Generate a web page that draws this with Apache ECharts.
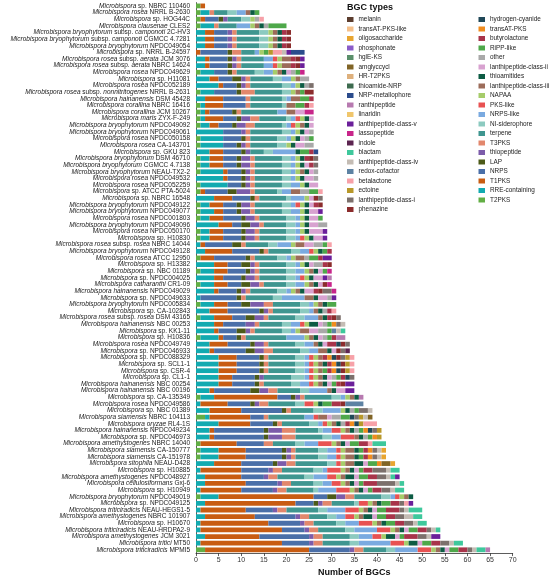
<!DOCTYPE html>
<html>
<head>
<meta charset="utf-8">
<script src="https://cdn.jsdelivr.net/npm/echarts@6/dist/echarts.min.js"></script>
<style>
  html, body { margin: 0; padding: 0; background: #fff; }
  #chart_1 { width: 550px; height: 582px; }
</style>
</head>
<body>
<div id="chart_1"></div>
<script>
// strain labels, top to bottom; _..._ marks the italic part
var strains = [
  '_Microbispora_ sp. NBRC 110460', '_Microbispora rosea_ NRRL B-2630', '_Microbispora_ sp. HOG44C',
  '_Microbispora clausenae_ CLES2', '_Microbispora bryophytorum_ subsp. _camponoti_ 2C-HV3',
  '_Microbispora bryophytorum_ subsp. _camponoti_ CGMCC 4.7281', '_Microbispora bryophytorum_ NPDC049054',
  '_Microbispora_ sp. NRRL B-24597', '_Microbispora rosea_ subsp. _aerata_ JCM 3076',
  '_Microbispora rosea_ subsp. _aerata_ NBRC 14624', '_Microbispora rosea_ NPDC049629', '_Microbispora_ sp. H11081',
  '_Microbispora rosea_ NPDC052189', '_Microbispora rosea_ subsp. _nonnitritogenes_ NRRL B-2631',
  '_Microbispora hainanensis_ DSM 45428', '_Microbispora corallina_ NBRC 16416', '_Microbispora corallina_ JCM 10267',
  '_Microbispora maris_ ZYX-F-249', '_Microbispora bryophytorum_ NPDC049092', '_Microbispora bryophytorum_ NPDC049061',
  '_Microbispora rosea_ NPDC050158', '_Microbispora rosea_ CA-143701', '_Microbispora_ sp. GKU 823',
  '_Microbispora bryophytorum_ DSM 46710', '_Microbispora bryophytorum_ CGMCC 4.7138',
  '_Microbispora bryophytorum_ NEAU-TX2-2', '_Microbispora rosea_ NPDC049532', '_Microbispora rosea_ NPDC052259',
  '_Microbispora_ sp. ATCC PTA-5024', '_Microbispora_ sp. NBRC 16548', '_Microbispora bryophytorum_ NPDC049122',
  '_Microbispora bryophytorum_ NPDC049077', '_Microbispora rosea_ NPDC001803', '_Microbispora bryophytorum_ NPDC049096',
  '_Microbispora rosea_ NPDC050170', '_Microbispora_ sp. H10830', '_Microbispora rosea_ subsp. _rosea_ NBRC 14044',
  '_Microbispora bryophytorum_ NPDC049128', '_Microbispora rosea_ ATCC 12950', '_Microbispora_ sp. H13382',
  '_Microbispora_ sp. NBC 01189', '_Microbispora_ sp. NPDC004025', '_Microbispora catharanthi_ CR1-09',
  '_Microbispora hainanensis_ NPDC049029', '_Microbispora_ sp. NPDC049633', '_Microbispora bryophytorum_ NPDC005834',
  '_Microbispora_ sp. CA-102843', '_Microbispora rosea_ subsp. _rosea_ DSM 43165', '_Microbispora hainanensis_ NBC 00253',
  '_Microbispora_ sp. KK1-11', '_Microbispora_ sp. H10836', '_Microbispora rosea_ NPDC049749',
  '_Microbispora_ sp. NPDC046933', '_Microbispora_ sp. NPDC088329', '_Microbispora_ sp. SCL1-1',
  '_Microbispora_ sp. CSR-4', '_Microbispora_ sp. CL1-1', '_Microbispora hainanensis_ NBC 00254',
  '_Microbispora hainanensis_ NBC 00196', '_Microbispora_ sp. CA-135349', '_Microbispora rosea_ NPDC049586',
  '_Microbispora_ sp. NBC 01389', '_Microbispora siamensis_ NBRC 104113', '_Microbispora oryzae_ RL4-1S',
  '_Microbispora hainanensis_ NPDC049234', '_Microbispora_ sp. NPDC046973', '_Microbispora amethystogenes_ NBRC 14040',
  '_Microbispora siamensis_ CA-150777', '_Microbispora siamensis_ CA-151978', '_Microbispora sitophila_ NEAU-D428',
  '_Microbispora_ sp. H10885', '_Microbispora amethystogenes_ NPDC048927', '_Microbispora cellulosiformans_ Gxj-6',
  '_Microbispora_ sp. H10949', '_Microbispora bryophytorum_ NPDC049019', '_Microbispora_ sp. NPDC049125',
  '_Microbispora triticiradicis_ NEAU-HEGS1-5', '_Microbispora amethystogenes_ NBRC 101907', '_Microbispora_ sp. H10670',
  '_Microbispora triticiradicis_ NEAU-HRDPA2-9', '_Microbispora amethystogenes_ JCM 3021', '_Microbispora tritici_ MT50',
  '_Microbispora triticiradicis_ MPMI5'
];

// BGC types in stacking order (left to right)
var typeCodes = ['T2', 'RRE', 'T1', 'NRPS', 'LAP', 'TP', 'T3', 'TER', 'NIS', 'NRL', 'PKL', 'NAP', 'L3', 'THA', 'L2',
  'OTH', 'RIPP', 'BUT', 'TAT', 'HCN', 'PHZ', 'L1', 'ECT', 'BL', 'RED', 'L4', 'BLA', 'IND', 'LAS', 'L5', 'LIN', 'RAN',
  'NRPM', 'TNRP', 'HRT2', 'AMG', 'HGL', 'PHO', 'OLI', 'TATL', 'MEL'];
var typeNames = ['T2PKS', 'RRE-containing', 'T1PKS', 'NRPS', 'LAP', 'thiopeptide', 'T3PKS', 'terpene', 'NI-siderophore',
  'NRPS-like', 'PKS-like', 'NAPAA', 'lanthipeptide-class-iii', 'thioamitides', 'lanthipeptide-class-ii', 'other',
  'RiPP-like', 'butyrolactone', 'transAT-PKS', 'hydrogen-cyanide', 'phenazine', 'lanthipeptide-class-i', 'ectoine',
  'betalactone', 'redox-cofactor', 'lanthipeptide-class-iv', 'blactam', 'indole', 'lassopeptide',
  'lanthipeptide-class-v', 'linaridin', 'ranthipeptide', 'NRP-metallophore', 'thioamide-NRP', 'HR-T2PKS',
  'amglyccycl', 'hglE-KS', 'phosphonate', 'oligosaccharide', 'transAT-PKS-like', 'melanin'];
var typeColors = ['#62ae44', '#12aab0', '#c85c12', '#4a6fa8', '#4c5a18', '#7c5caa', '#e2876c', '#3f9690', '#8ccac0',
  '#7aaae0', '#e85252', '#a6cc6a', '#9c6c5a', '#0d5c44', '#d8a2d0', '#a9a9a9', '#4ea84a', '#a8344a', '#f08c1e',
  '#204858', '#8b2c2c', '#7c706c', '#b8982a', '#f7a1a8', '#5d82a3', '#c4bcb4', '#3ec89c', '#5c2450', '#c8258a',
  '#6b1f9a', '#f0c66c', '#b77ab0', '#2b4c8c', '#3d6b4f', '#deb07c', '#806426', '#5a8f6a', '#8a5cc8', '#e8a530',
  '#f5c08a', '#5c3d2e'];

// BGC counts per strain (same order as strains)
var counts = [
  {T2:1, T1:1},
  {T2:1, RRE:2, T3:1, TER:3, NIS:2, NRL:2, L3:1, THA:1, RIPP:1},
  {T2:1, T1:1, NRPS:3, LAP:1, TP:1, TER:3, NIS:2, NAP:1, OTH:1, BL:1},
  {T2:1, RRE:3, T3:1, TER:4, NRL:3, NAP:1, L3:1, THA:1, OTH:1, RIPP:4},
  {RRE:2, T1:2, NRPS:3, TP:1, T3:1, TER:5, NIS:2, NAP:1, L3:1, THA:1, BUT:1, PHZ:1},
  {RRE:2, T1:2, NRPS:3, TP:1, T3:1, TER:5, NIS:2, NAP:1, L3:1, THA:1, BUT:1, PHZ:1},
  {RRE:2, T1:2, NRPS:3, TP:1, T3:1, TER:5, NIS:2, NAP:1, L3:1, THA:1, BUT:1, PHZ:1},
  {T1:1, NRPS:6, LAP:1, T3:2, TER:3, NRL:1, NAP:1, RIPP:1, ECT:1, BL:2, L4:1, L5:1, NRPM:3},
  {RRE:2, T1:1, NRPS:4, LAP:1, TP:1, T3:1, TER:5, NRL:2, PKL:1, NAP:1, L3:2, BUT:1, PHZ:1, L5:1},
  {RRE:2, T1:1, NRPS:4, LAP:1, TP:1, T3:1, TER:5, NRL:2, PKL:1, NAP:1, L3:2, BUT:1, PHZ:1, L5:1},
  {T2:1, RRE:3, NRPS:3, LAP:1, T3:1, TER:4, NIS:2, NRL:2, NAP:1, L3:1, THA:1, L2:1, OTH:1, RIPP:1, LAS:1},
  {RRE:3, T1:2, NRPS:3, LAP:2, TP:1, T3:1, TER:5, NIS:2, NRL:2, NAP:1, L3:1, OTH:2},
  {RRE:5, T1:1, NRPS:3, LAP:1, TP:1, T3:1, TER:7, NIS:2, NRL:1, NAP:1, THA:1, OTH:1, L1:1},
  {T2:1, RRE:3, NRPS:5, LAP:1, T3:3, TER:6, NIS:2, NAP:1, L3:1, RIPP:1, PHZ:2},
  {RRE:2, T1:4, NRPS:5, T3:1, TER:7, NIS:1, NRL:1, L3:2, RIPP:2, BUT:1},
  {T2:1, RRE:1, T1:4, NRPS:5, T3:1, TER:7, NIS:1, L3:2, RIPP:2, BUT:1, BL:1},
  {T2:1, RRE:1, T1:1, NRPS:5, LAP:1, T3:1, TER:8, NRL:2, L3:2, L2:2, LAS:2},
  {T2:1, RRE:1, T1:4, NRPS:3, LAP:1, TP:2, T3:2, TER:6, NIS:1, NRL:1, PKL:1, NAP:1, THA:1, L2:1},
  {T2:1, RRE:2, T1:2, NRPS:3, LAP:1, TP:2, T3:2, TER:6, NIS:1, NRL:1, PKL:1, NAP:1, L3:1, THA:1, L2:1},
  {RRE:6, NRPS:4, TP:1, T3:1, TER:7, NIS:2, NRL:1, NAP:1, THA:1, L2:1, OTH:1},
  {T2:1, RRE:5, NRPS:4, LAP:1, T3:1, TER:6, NIS:2, NRL:1, NAP:1, THA:1, L2:1, OTH:1, RIPP:1},
  {T2:1, RRE:5, NRPS:3, LAP:1, TP:1, T3:1, TER:6, NIS:2, NAP:1, THA:1, L2:2, OTH:2},
  {RRE:3, T1:3, NRPS:4, LAP:1, TP:1, TER:3, NIS:2, NRL:5, THA:1, RIPP:2, BUT:1, NRPM:1},
  {T2:1, RRE:2, T1:3, NRPS:3, LAP:1, TP:2, T3:1, TER:6, NIS:2, NRL:1, NAP:1, THA:1, BUT:1, PHZ:1, L1:1},
  {T2:1, RRE:2, T1:3, NRPS:3, LAP:1, TP:2, T3:1, TER:6, NIS:2, NRL:1, NAP:1, THA:1, L2:1, BUT:1, L1:1},
  {T2:1, RRE:5, T1:1, NRPS:3, LAP:1, TP:1, T3:1, TER:6, NIS:2, NRL:1, NAP:1, L3:1, THA:1, L2:1, OTH:1},
  {RRE:6, T1:1, NRPS:3, LAP:1, TP:1, T3:1, TER:6, NIS:2, NRL:1, NAP:1, THA:1, L2:2, OTH:1},
  {T2:1, RRE:6, NRPS:3, LAP:1, TP:1, T3:1, TER:6, NIS:2, NRL:2, NAP:1, THA:1, L2:2},
  {T2:1, T1:1, NRPS:5, LAP:2, TP:3, T3:1, TER:5, NIS:1, NRL:2, L3:2, OTH:2, RIPP:2, BL:1},
  {RRE:4, T1:4, NRPS:4, LAP:1, T3:1, TER:6, NIS:1, NRL:3, NAP:1, L2:1, PHZ:1, L1:1},
  {T2:1, RRE:2, T1:3, NRPS:3, LAP:1, TP:2, T3:1, TER:6, NIS:2, NRL:1, PKL:1, NAP:1, THA:1, L2:1, BUT:1, PHZ:1},
  {T2:1, RRE:3, T1:2, NRPS:3, LAP:1, TP:2, T3:1, TER:6, NIS:2, NRL:2, NAP:1, THA:1, L2:2, L5:1},
  {T2:1, RRE:2, T1:3, NRPS:4, LAP:1, TP:2, T3:1, TER:6, NIS:2, NRL:1, NAP:1, THA:1, L2:2, RIPP:1},
  {RRE:5, T1:3, NRPS:2, LAP:2, TP:2, T3:1, TER:5, NIS:2, NRL:1, NAP:1, THA:1, L2:2, OTH:2},
  {T2:1, RRE:2, T1:3, NRPS:4, LAP:1, TP:2, T3:1, TER:6, NIS:2, NRL:1, NAP:1, THA:1, L2:3, L5:1},
  {T2:1, RRE:2, T1:3, NRPS:4, LAP:1, TP:2, T3:1, TER:6, NIS:2, NRL:1, PKL:1, NAP:1, THA:1, L2:2, L5:1},
  {RRE:1, T1:1, NRPS:6, LAP:2, T3:1, TER:5, NIS:2, NRL:3, NAP:1, L3:2, L2:2, OTH:2, RIPP:1, BL:1},
  {RRE:2, T1:6, NRPS:6, LAP:1, T3:1, TER:5, NIS:2, NRL:2, PKL:1, NAP:1, THA:1, RIPP:1, BUT:1},
  {T2:1, T1:3, NRPS:7, LAP:1, T3:1, TER:5, NIS:2, NRL:1, NAP:1, L3:2, OTH:1, RIPP:2, BUT:1, L5:2},
  {RRE:4, T1:3, NRPS:3, LAP:2, TP:1, T3:1, TER:6, NIS:2, NRL:1, NAP:1, THA:1, L2:1, OTH:2, BUT:1, PHZ:1},
  {T2:1, RRE:3, T1:3, NRPS:4, LAP:1, TP:1, T3:1, TER:6, NIS:2, NRL:2, NAP:1, L3:1, THA:1, L2:1, RIPP:1, LAS:1},
  {RRE:4, T1:2, NRPS:4, LAP:1, TP:2, T3:1, TER:6, NIS:2, NRL:1, PKL:1, NAP:1, THA:1, L2:2, L5:1, RAN:1},
  {T2:1, RRE:3, T1:3, NRPS:3, LAP:2, TP:2, T3:1, TER:5, NIS:2, NRL:2, NAP:1, L3:1, THA:1, L2:1, PHZ:1, LAS:1},
  {RRE:4, T1:1, NRPS:4, LAP:1, TP:1, T3:1, TER:6, NIS:2, NRL:1, NAP:1, L3:1, THA:1, L2:2, BUT:1, PHZ:1, L1:2, LAS:1},
  {RRE:1, NRPS:8, LAP:1, T3:1, TER:6, NIS:2, NRL:5, L3:2, THA:1, L2:2, OTH:1, L5:1},
  {T2:1, RRE:3, T1:3, NRPS:3, LAP:2, TP:3, T3:2, TER:6, NIS:2, NRL:1, NAP:1, L3:1, THA:1, RIPP:2},
  {RRE:3, T1:4, NRPS:7, LAP:1, TP:1, T3:1, TER:6, NIS:2, NRL:1, L3:1, THA:1, OTH:1, BUT:1, BL:1},
  {T2:1, RRE:3, T1:4, NRPS:3, LAP:2, TP:2, T3:1, TER:6, NIS:2, NRL:3, L3:1, THA:1, BUT:1, PHZ:1, L1:1},
  {RRE:4, T1:2, NRPS:5, TP:2, T3:1, TER:5, NIS:2, NRL:2, PKL:1, NAP:1, THA:2, L2:1, OTH:1, RIPP:1, TAT:1, L1:1, L4:1},
  {RRE:4, T1:1, NRPS:4, LAP:2, TP:1, T3:1, TER:6, NIS:2, NRL:1, NAP:1, L3:2, L2:2, OTH:2, RIPP:1, RED:1, L4:1, BLA:1},
  {T2:1, RRE:4, T1:1, NRPS:3, LAP:1, T3:1, TER:9, NRL:4, NAP:1, L3:1, THA:1, L2:1, OTH:1, RIPP:1, BUT:1, RAN:2},
  {RRE:3, T1:4, NRPS:5, LAP:1, TP:2, T3:1, TER:6, NIS:2, NRL:2, L3:1, THA:1, L2:1, BUT:2, HCN:1, PHZ:1, L1:1},
  {RRE:3, T1:1, NRPS:7, LAP:2, TP:2, T3:2, TER:6, NIS:2, NRL:2, L3:2, THA:1, L2:1, PHZ:1, L1:1, IND:1},
  {RRE:5, T1:4, NRPS:5, LAP:1, T3:1, TER:6, NIS:2, NRL:1, PKL:1, NAP:1, L3:1, BUT:1, TAT:1, HCN:1, PHZ:1, L1:1, ECT:1, BL:1},
  {RRE:5, T1:4, NRPS:5, LAP:1, T3:1, TER:6, NIS:2, NRL:1, PKL:1, NAP:1, L3:1, THA:1, BUT:1, TAT:1, HCN:1, PHZ:1, ECT:1, BL:1},
  {RRE:5, T1:4, NRPS:5, LAP:1, T3:1, TER:6, NIS:2, NRL:1, PKL:1, NAP:1, L3:1, RIPP:1, BUT:1, TAT:1, HCN:1, PHZ:1, ECT:1, BL:1},
  {RRE:5, T1:3, NRPS:5, LAP:1, TP:1, TER:6, NIS:3, NRL:1, PKL:1, NAP:1, L3:1, THA:1, L2:1, OTH:1, RIPP:1, BUT:1, HCN:1, L1:1},
  {RRE:5, T1:3, NRPS:5, LAP:1, T3:1, TER:6, NIS:2, NRL:2, PKL:1, NAP:1, L3:1, THA:1, L2:1, RIPP:1, BUT:1, PHZ:1, L5:2},
  {RRE:3, T1:1, NRPS:8, LAP:2, TP:2, T3:2, TER:5, NIS:2, NRL:4, L3:1, THA:1, L2:2, L5:2},
  {T2:1, RRE:3, T1:14, NRPS:3, LAP:1, TP:1, T3:1, TER:6, NIS:2, NRL:1, NAP:1, L3:1, THA:1, RAN:1},
  {RRE:1, T1:6, NRPS:5, LAP:1, TP:1, T3:2, TER:6, NIS:2, PKL:2, NAP:1, THA:1, RIPP:2, BUT:2, PHZ:1, RED:4},
  {RRE:3, T1:7, NRPS:9, LAP:1, T3:1, TER:5, NIS:2, NRL:4, NAP:1, THA:1, OTH:1, RIPP:1, L1:2, L4:1},
  {T2:2, RRE:1, T1:9, NRPS:3, T3:1, TER:8, NRL:2, PKL:1, L3:2, L2:1, OTH:2, RIPP:2, HCN:1, L1:1, ECT:1, L4:1, AMG:1},
  {RRE:5, T1:7, NRPS:5, LAP:1, T3:1, TER:6, NIS:2, NRL:1, PKL:1, NAP:1, L3:1, THA:1, OTH:1, BUT:1, TAT:1, HCN:1, ECT:1, BL:3},
  {RRE:3, T1:1, NRPS:11, LAP:1, TP:3, T3:3, TER:5, NIS:1, NRL:2, PKL:2, NAP:1, L3:1, THA:1, OTH:1, RIPP:1, TAT:1, HCN:1, L1:1, ECT:1},
  {RRE:3, T1:1, NRPS:11, LAP:1, TP:3, T3:3, TER:6, NIS:2, NRL:2, PKL:3, L3:1, THA:1, OTH:1, RIPP:1, TAT:1, ECT:1},
  {T2:1, T1:8, NRPS:6, T3:2, TER:5, NIS:2, NRL:3, PKL:3, NAP:1, L3:1, THA:1, L2:1, RIPP:2, BUT:2, BL:1, BLA:3},
  {T2:1, RRE:4, T1:6, NRPS:8, LAP:1, TP:1, T3:1, TER:5, NIS:2, NRL:2, PKL:1, NAP:1, L3:2, THA:1, RIPP:1, BUT:1, TAT:1, L1:1, L4:1, OLI:1},
  {T2:1, RRE:4, T1:6, NRPS:8, LAP:1, TP:1, T3:1, TER:5, NIS:2, NRL:2, PKL:1, NAP:1, L3:2, THA:1, RIPP:1, BUT:1, TAT:1, L1:1, L4:1, OLI:1},
  {RRE:4, T1:6, NRPS:7, LAP:1, TP:2, T3:2, TER:7, NIS:2, PKL:1, NAP:1, L3:2, THA:2, L2:1, RIPP:2, TAT:1, OLI:1, AMG:2},
  {RRE:1, T1:9, NRPS:6, TP:1, T3:2, TER:7, NIS:2, NRL:1, PKL:3, NAP:1, L3:1, THA:1, L2:1, RIPP:1, BUT:2, L1:3, L4:1, BLA:2},
  {RRE:2, T1:8, NRPS:5, TP:1, T3:2, TER:6, NIS:2, NRL:3, PKL:2, NAP:1, L3:1, THA:2, L2:1, RIPP:2, BUT:2, L1:2, L4:1, BLA:1, L5:1},
  {RRE:2, T1:9, NRPS:7, TP:1, T3:2, TER:5, NIS:2, NRL:2, PKL:2, NAP:1, L3:1, THA:1, L2:1, RIPP:1, BUT:3, L1:4, L4:1, BLA:1},
  {RRE:1, T1:9, NRPS:7, TP:1, T3:2, TER:6, NIS:1, NRL:4, PKL:3, NAP:1, L3:1, THA:1, L2:1, RIPP:1, BUT:2, L1:2, L4:1, BLA:2},
  {T2:1, RRE:4, T1:21, NRPS:3, LAP:2, TP:2, T3:2, TER:6, NIS:2, NRL:1, PKL:1, NAP:1, L3:1, THA:1},
  {RRE:2, T1:20, NRPS:4, LAP:1, TP:1, T3:2, TER:5, NIS:1, PKL:2, NAP:1, L3:1, THA:1, RIPP:2, BUT:2, L1:1, BL:1, L5:1},
  {RRE:1, T1:10, NRPS:6, TP:1, T3:2, TER:7, NIS:2, NRL:4, PKL:3, NAP:1, L3:1, THA:1, L2:1, RIPP:2, BUT:3, L1:1, L4:1, BLA:3},
  {RRE:2, T1:11, NRPS:9, TP:1, T3:2, TER:4, NIS:2, NRL:2, PKL:2, NAP:1, L3:1, THA:2, L2:1, RIPP:2, BUT:2, L1:2, L4:2, BLA:2},
  {RRE:1, T1:15, NRPS:7, TP:1, T3:2, TER:5, NIS:2, NRL:3, PKL:3, NAP:1, L3:1, THA:1, RIPP:2, BUT:2, L1:2, L4:1, BLA:2},
  {RRE:1, T1:18, NRPS:5, TP:1, T3:2, TER:6, NIS:2, NRL:5, PKL:3, NAP:1, L3:1, THA:1, L2:1, RIPP:2, BUT:2, L1:1, L4:1, BLA:1},
  {RRE:2, T1:12, NRPS:11, TP:1, T3:2, TER:6, NIS:2, NRL:3, PKL:2, NAP:1, THA:2, L2:1, RIPP:1, BUT:3, L1:2, L4:1, L5:2},
  {RRE:1, T1:18, NRPS:6, TP:1, T3:2, TER:6, NIS:2, NRL:7, PKL:3, NAP:1, THA:2, L2:1, RIPP:2, BUT:2, L1:2, L4:1, BLA:2},
  {T2:2, T1:23, NRPS:9, TP:1, T3:2, TER:5, NIS:2, NRL:5, PKL:3, NAP:1, L3:1, THA:1, L2:1, RIPP:2, BUT:2, L1:1, L4:1, BLA:2, RAN:1}
];

var xTicks = [0, 70, 5]; // min, max, interval

(function () {
    echart_1();

    function richLabel(s) {
        return s.split('_').map(function (p, k) {
            if (!p) return '';
            return (k % 2 ? '{i|' : '{n|') + p + '}';
        }).join('');
    }

    function echart_1() {
        var myChart = echarts.init(document.getElementById('chart_1'));
        var font = "'Liberation Sans', Arial, sans-serif";

        var series = typeCodes.map(function (code, k) {
            return {
                name: typeNames[k],
                type: 'bar',
                stack: 'bgc',
                barWidth: '72%',
                itemStyle: { color: typeColors[k] },
                emphasis: { disabled: true },
                data: counts.map(function (c) { return c[code] || 0; })
            };
        });

        // legend reads top-down in reverse stacking order, split in two columns
        var legendOrder = typeNames.slice().reverse();
        var legendText = { fontSize: 6.4, color: '#222', fontFamily: font };

        var option = {
            animation: false,
            textStyle: { fontFamily: font },
            title: {
                text: 'BGC types',
                left: 347, top: 3.5, padding: 0,
                textStyle: { fontSize: 9, fontWeight: 'bold', color: '#111', fontFamily: font }
            },
            legend: [
                {
                    data: legendOrder.slice(0, 21),
                    orient: 'vertical', left: 347, top: 16.5, padding: 0,
                    icon: 'rect', itemWidth: 6.5, itemHeight: 5, itemGap: 3.5,
                    textStyle: legendText
                },
                {
                    data: legendOrder.slice(21),
                    orient: 'vertical', left: 478.5, top: 16.5, padding: 0,
                    icon: 'rect', itemWidth: 6.5, itemHeight: 5, itemGap: 3.5,
                    textStyle: legendText
                }
            ],
            grid: { left: 196, right: 37.3, top: 2.6, bottom: 23.2 },
            xAxis: {
                type: 'value',
                min: xTicks[0], max: xTicks[1], interval: xTicks[2],
                name: 'Number of BGCs',
                nameLocation: 'middle',
                nameGap: 12,
                nameTextStyle: { fontSize: 9, fontWeight: 'bold', color: '#111', fontFamily: font },
                axisLine: { show: true, lineStyle: { color: '#333', width: 0.8 } },
                axisTick: { show: true, length: 3, lineStyle: { color: '#333', width: 0.8 } },
                axisLabel: { fontSize: 7, color: '#333', margin: 3, fontFamily: font },
                splitLine: { show: false }
            },
            yAxis: {
                type: 'category',
                inverse: true,
                data: strains,
                axisLine: { show: true, lineStyle: { color: '#333', width: 0.8 } },
                axisTick: { show: false },
                axisLabel: {
                    interval: 0,
                    margin: 6,
                    formatter: richLabel,
                    rich: {
                        i: { fontSize: 6.5, fontStyle: 'italic', color: '#222', fontFamily: font, lineHeight: 7 },
                        n: { fontSize: 6.5, color: '#222', fontFamily: font, lineHeight: 7 }
                    }
                }
            },
            series: series
        };

        if (option && typeof option === 'object')
            myChart.setOption(option);
        window.addEventListener("resize", function () {
            myChart.resize();
        });
    }
})();
</script>
</body>
</html>
